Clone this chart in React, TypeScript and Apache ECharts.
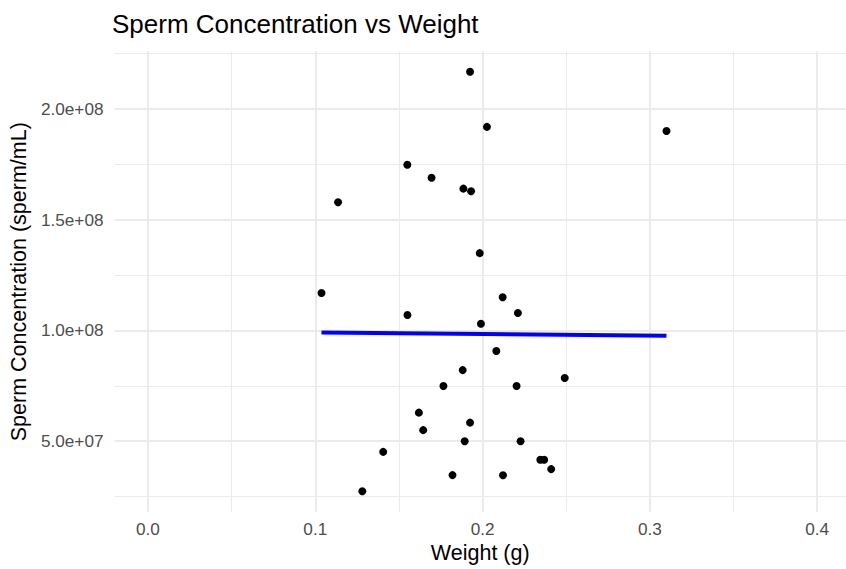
import React, { useEffect, useRef } from "react";
import * as echarts from "echarts";

const weights = [
  0.1925, 0.155, 0.1695, 0.1885, 0.1931, 0.1136, 0.1983, 0.2026, 0.3099,
  0.1037, 0.1551, 0.199, 0.1881, 0.1766, 0.1619, 0.1925, 0.1645, 0.1893,
  0.1406, 0.182, 0.1281, 0.212, 0.2211, 0.2082, 0.2203, 0.2491, 0.2227,
  0.2345, 0.2368, 0.241, 0.2122,
];
const concentrations = [
  2.168e8, 1.748e8, 1.689e8, 1.64e8, 1.628e8, 1.579e8, 1.349e8, 1.919e8, 1.9e8,
  1.169e8, 1.07e8, 1.03e8, 8.21e7, 7.49e7, 6.29e7, 5.84e7, 5.5e7, 5.0e7,
  4.52e7, 3.47e7, 2.74e7, 1.15e8, 1.079e8, 9.07e7, 7.49e7, 7.85e7, 5.0e7,
  4.16e7, 4.16e7, 3.74e7, 3.46e7,
];
const fitX = [0.1037, 0.3099];
const fitY = [9.91e7, 9.76e7];

const xMajor = [0, 0.1, 0.2, 0.3, 0.4];
const xMinor = [0.05, 0.15, 0.25, 0.35];
const yMajor = [5e7, 1e8, 1.5e8, 2e8];
const yMinor = [2.5e7, 7.5e7, 1.25e8, 1.75e8, 2.25e8];

const FONT = "Liberation Sans";

function sci(v: number): string {
  const s = v.toExponential(1);
  const [m, e] = s.split("e");
  const sign = e[0] === "-" ? "-" : "+";
  const digits = e.replace(/^[+-]/, "").padStart(2, "0");
  return `${m}e${sign}${digits}`;
}

export default function App() {
  const ref = useRef<HTMLDivElement>(null);
  useEffect(() => {
    if (!ref.current) return;
    const chart = echarts.init(ref.current, undefined, { renderer: "svg" });
    const major = { color: "#EBEBEB", width: 2, type: "solid" as const };
    const minor = { color: "#EBEBEB", width: 1, type: "solid" as const };
    const gridData: any[] = [
      ...xMinor.map((v) => ({ xAxis: v, lineStyle: minor })),
      ...yMinor.map((v) => ({ yAxis: v, lineStyle: minor })),
      ...xMajor.map((v) => ({ xAxis: v, lineStyle: major })),
      ...yMajor.map((v) => ({ yAxis: v, lineStyle: major })),
    ];
    chart.setOption({
      animation: false,
      backgroundColor: "#FFFFFF",
      textStyle: { fontFamily: FONT },
      title: {
        text: "Sperm Concentration vs Weight",
        left: 112,
        top: 11,
        padding: 0,
        textStyle: { fontFamily: FONT, fontSize: 26, fontWeight: "normal", color: "#000000" },
      },
      grid: { left: 112.4, right: 0, top: 51.3, bottom: 55.5, containLabel: false },
      xAxis: {
        type: "value",
        min: -0.02,
        max: 0.4172,
        name: "Weight (g)",
        nameLocation: "middle",
        nameGap: 26,
        nameTextStyle: { fontFamily: FONT, fontSize: 21.5, color: "#000000" },
        axisLine: { show: false },
        axisTick: { show: false },
        splitLine: { show: false },
        axisLabel: {
          customValues: xMajor,
          formatter: (v: number) => v.toFixed(1),
          color: "#4D4D4D",
          fontSize: 17.2,
          fontFamily: FONT,
          margin: 8,
        },
      },
      yAxis: {
        type: "value",
        min: 1.8e7,
        max: 2.26e8,
        name: "Sperm Concentration (sperm/mL)",
        nameLocation: "middle",
        nameGap: 80,
        nameTextStyle: { fontFamily: FONT, fontSize: 21.5, color: "#000000" },
        axisLine: { show: false },
        axisTick: { show: false },
        splitLine: { show: false },
        axisLabel: {
          customValues: yMajor,
          formatter: (v: number) => sci(v),
          color: "#4D4D4D",
          fontSize: 17.2,
          fontFamily: FONT,
          margin: 11,
        },
      },
      series: [
        {
          type: "line",
          data: [],
          silent: true,
          z: 0,
          markLine: {
            silent: true,
            symbol: "none",
            z: 0,
            label: { show: false },
            emphasis: { disabled: true },
            data: gridData,
          },
        },
        {
          type: "scatter",
          z: 3,
          symbol: "circle",
          symbolSize: 8,
          itemStyle: { color: "#000000", opacity: 1 },
          data: weights.map((w, i) => [w, concentrations[i]]),
        },
        {
          type: "line",
          z: 4,
          showSymbol: false,
          symbol: "none",
          lineStyle: { color: "#0000FF", width: 4 },
          data: fitX.map((x, i) => [x, fitY[i]]),
        },
      ],
    });
    return () => chart.dispose();
  }, []);
  return (
    <div
      ref={ref}
      style={{ position: "fixed", left: 0, top: 0, width: 846, height: 569 }}
    />
  );
}
